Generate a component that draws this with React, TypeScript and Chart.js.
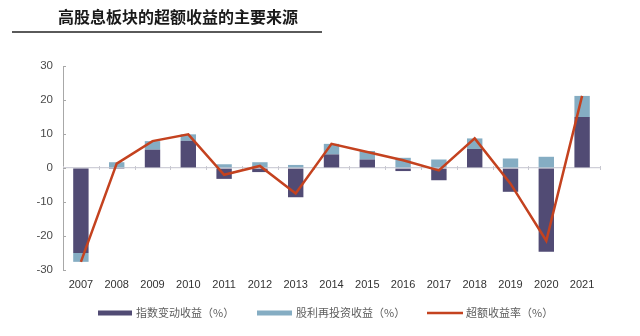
import React, { useEffect, useRef } from "react";
import { Chart, registerables } from "chart.js";

Chart.register(...registerables);

const categories = ["2007", "2008", "2009", "2010", "2011", "2012", "2013", "2014", "2015", "2016", "2017", "2018", "2019", "2020", "2021"];
const indexReturn = [-25.0, -0.3, 5.4, 8.0, -3.2, -1.2, -8.6, 4.0, 2.5, -0.9, -3.6, 5.6, -7.0, -24.6, 15.0];
const dividendReturn = [-2.6, 1.7, 2.5, 1.9, 1.1, 1.7, 0.9, 3.1, 2.5, 3.0, 2.5, 3.1, 2.8, 3.3, 6.2];
const excessReturn = [-27.6, 1.3, 7.9, 9.9, -2.0, 0.6, -7.5, 7.1, 4.7, 2.3, -0.7, 8.7, -4.6, -21.4, 21.2];
const yTicks = [30, 20, 10, 0, -10, -20, -30];

const title = "高股息板块的超额收益的主要来源";
const legendLabels = ["指数变动收益（%）", "股利再投资收益（%）", "超额收益率（%）"];

const DARK = "#514b74";
const LIGHT = "#85adc3";
const RED = "#c4421f";
const CJK = '"Noto Sans CJK SC", "Noto Sans", sans-serif';
const LATIN = '"Liberation Sans", Arial, sans-serif';

const decorPlugin = {
  id: "decor",
  beforeDraw(chart: any) {
    const ctx = chart.ctx;
    ctx.save();
    ctx.fillStyle = "#ffffff";
    ctx.fillRect(0, 0, chart.width, chart.height);
    ctx.restore();
  },
  beforeDatasetsDraw(chart: any) {
    const ctx = chart.ctx;
    const x = chart.scales.x;
    const y = chart.scales.y;
    const y0 = y.getPixelForValue(0);
    ctx.save();
    ctx.strokeStyle = "#c8c8d0";
    ctx.lineWidth = 1;
    const step = x.getPixelForValue(1) - x.getPixelForValue(0);
    for (let i = 0; i <= categories.length; i++) {
      const px = Math.round(x.getPixelForValue(0) - step / 2 + i * step) + 0.5;
      ctx.beginPath();
      ctx.moveTo(px, y0 - 2);
      ctx.lineTo(px, y0 + 2);
      ctx.stroke();
    }
    // inward y ticks
    ctx.strokeStyle = "#a8a8a8";
    const left = chart.chartArea.left;
    yTicks.forEach((v) => {
      const py = Math.round(y.getPixelForValue(v)) + 0.5;
      ctx.beginPath();
      ctx.moveTo(left, py);
      ctx.lineTo(left + 3, py);
      ctx.stroke();
    });
    ctx.restore();
  },
  afterDraw(chart: any) {
    const ctx = chart.ctx;
    ctx.save();
    // title
    ctx.fillStyle = "#1a1a1a";
    ctx.font = `bold 16px ${CJK}`;
    ctx.textBaseline = "middle";
    ctx.textAlign = "left";
    ctx.fillText(title, 58, 17);
    // underline
    ctx.strokeStyle = "#5a5a5a";
    ctx.lineWidth = 2;
    ctx.beginPath();
    ctx.moveTo(12, 32);
    ctx.lineTo(322, 32);
    ctx.stroke();

    // legend
    const ly = 313;
    ctx.font = `11px ${CJK}`;
    ctx.textBaseline = "middle";
    ctx.fillStyle = DARK;
    ctx.fillRect(98, ly - 2.5, 34, 5);
    ctx.fillStyle = "#5e5e5e";
    ctx.fillText(legendLabels[0], 136, ly);
    ctx.fillStyle = LIGHT;
    ctx.fillRect(257, ly - 2.5, 35, 5);
    ctx.fillStyle = "#5e5e5e";
    ctx.fillText(legendLabels[1], 296, ly);
    ctx.strokeStyle = RED;
    ctx.lineWidth = 2.5;
    ctx.beginPath();
    ctx.moveTo(427, ly);
    ctx.lineTo(463, ly);
    ctx.stroke();
    ctx.fillText(legendLabels[2], 466, ly);
    ctx.restore();
  },
};

export default function App() {
  const ref = useRef<HTMLCanvasElement | null>(null);

  useEffect(() => {
    if (!ref.current) return;
    const chart = new Chart(ref.current, {
      type: "bar",
      data: {
        labels: categories,
        datasets: [
          {
            type: "bar",
            label: legendLabels[0],
            data: indexReturn,
            backgroundColor: DARK,
            stack: "bars",
            order: 1,
            barPercentage: 0.43,
            categoryPercentage: 1,
          },
          {
            type: "bar",
            label: legendLabels[1],
            data: dividendReturn,
            backgroundColor: LIGHT,
            stack: "bars",
            order: 1,
            barPercentage: 0.43,
            categoryPercentage: 1,
          },
          {
            type: "line",
            label: legendLabels[2],
            data: excessReturn,
            borderColor: RED,
            backgroundColor: RED,
            borderWidth: 2.5,
            pointRadius: 0,
            tension: 0,
            stack: "line",
            order: 0,
          } as any,
        ],
      },
      options: {
        responsive: false,
        animation: false,
        devicePixelRatio: 1,
        layout: { padding: { left: 0, right: 40, top: 66, bottom: 0 } },
        plugins: {
          legend: { display: false },
          tooltip: { enabled: false },
          title: { display: false },
        },
        scales: {
          x: {
            stacked: true,
            offset: true,
            grid: { display: false, drawTicks: false },
            border: { display: false },
            ticks: {
              color: "#333333",
              font: { family: LATIN, size: 11 },
              padding: 8,
              maxRotation: 0,
              autoSkip: false,
            },
            afterFit: (scale: any) => {
              scale.height = 66;
            },
          },
          y: {
            stacked: true,
            min: -30,
            max: 30,
            afterBuildTicks: (scale: any) => {
              scale.ticks = yTicks.slice().reverse().map((v) => ({ value: v }));
            },
            grid: {
              drawTicks: false,
              tickLength: 0,
              color: (c: any) => (c.tick && c.tick.value === 0 ? "#cfcfd8" : "rgba(0,0,0,0)"),
              lineWidth: 1.2,
            },
            border: { display: true, color: "#a8a8a8", width: 1 },
            ticks: {
              color: "#4a4a4a",
              font: { family: LATIN, size: 11.5 },
              padding: 10,
            },
            afterFit: (scale: any) => {
              scale.width = 63;
            },
          },
        },
      },
      plugins: [decorPlugin],
    });
    return () => chart.destroy();
  }, []);

  return (
    <div style={{ position: "fixed", left: 0, top: 0, width: 640, height: 336, background: "#fff" }}>
      <canvas ref={ref} width={640} height={336} style={{ width: 640, height: 336, display: "block" }} />
    </div>
  );
}
